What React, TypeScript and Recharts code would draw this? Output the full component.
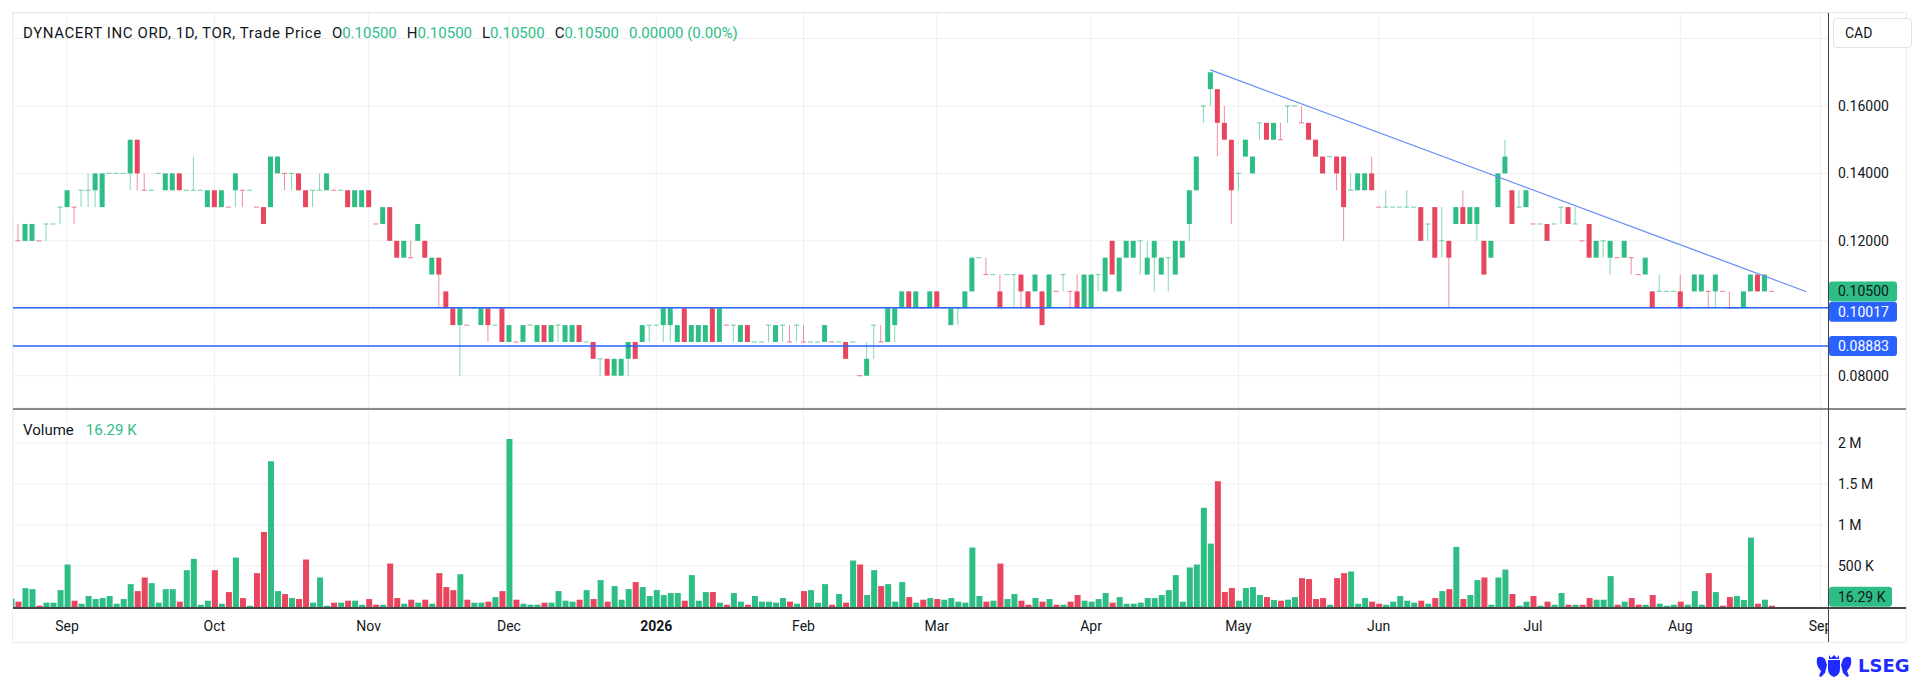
import { ComposedChart, Bar, Cell, XAxis, YAxis, CartesianGrid, ReferenceLine } from 'recharts'

// colours
const UP = '#2ebd85'
const DOWN = '#e8455e'
const LINE_BLUE = '#2962ff'
const TREND_BLUE = '#6a8ff5'
const INK = '#131722'
const GRID = '#efefef'
const FONT = 'Roboto, "Noto Sans", sans-serif'

// daily bars, late Aug 2025 -> 21 Aug 2026 (index = trading day)
const opens = [
  0.125, 0.12, 0.12, 0.12, 0.12, 0.125, 0.125, 0.13, 0.13, 0.13,
  0.135, 0.135, 0.135, 0.13, 0.14, 0.14, 0.14, 0.14, 0.15, 0.135,
  0.135, 0.14, 0.135, 0.135, 0.14, 0.135, 0.135, 0.135, 0.13, 0.135,
  0.13, 0.13, 0.135, 0.135, 0.135, 0.13, 0.13, 0.13, 0.14, 0.14,
  0.14, 0.14, 0.135, 0.135, 0.135, 0.135, 0.135, 0.135, 0.135, 0.13,
  0.13, 0.135, 0.125, 0.125, 0.13, 0.12, 0.115, 0.115, 0.12, 0.12,
  0.11, 0.115, 0.105, 0.1, 0.095, 0.095, 0.1, 0.095, 0.1, 0.095,
  0.1, 0.09, 0.09, 0.09, 0.095, 0.09, 0.095, 0.09, 0.095, 0.09,
  0.09, 0.095, 0.09, 0.09, 0.085, 0.085, 0.08, 0.08, 0.085, 0.09,
  0.09, 0.095, 0.095, 0.095, 0.095, 0.09, 0.1, 0.09, 0.09, 0.09,
  0.1, 0.09, 0.095, 0.095, 0.09, 0.095, 0.09, 0.09, 0.095, 0.09,
  0.095, 0.09, 0.095, 0.09, 0.09, 0.09, 0.09, 0.09, 0.09, 0.09,
  0.09, 0.08, 0.08, 0.095, 0.09, 0.09, 0.095, 0.1, 0.105, 0.1,
  0.1, 0.1, 0.105, 0.1, 0.095, 0.1, 0.1, 0.105, 0.115, 0.11,
  0.11, 0.105, 0.11, 0.11, 0.11, 0.105, 0.105, 0.105, 0.1, 0.105,
  0.11, 0.105, 0.105, 0.1, 0.1, 0.11, 0.105, 0.12, 0.105, 0.115,
  0.115, 0.12, 0.11, 0.115, 0.11, 0.115, 0.11, 0.115, 0.125, 0.135,
  0.16, 0.165, 0.165, 0.155, 0.15, 0.14, 0.145, 0.14, 0.155, 0.155,
  0.15, 0.15, 0.16, 0.16, 0.155, 0.155, 0.15, 0.145, 0.145, 0.145,
  0.145, 0.135, 0.135, 0.135, 0.14, 0.13, 0.13, 0.13, 0.13, 0.13,
  0.13, 0.13, 0.125, 0.13, 0.12, 0.12, 0.125, 0.13, 0.125, 0.125,
  0.12, 0.115, 0.13, 0.14, 0.135, 0.13, 0.13, 0.125, 0.125, 0.125,
  0.125, 0.13, 0.13, 0.125, 0.12, 0.125, 0.115, 0.12, 0.115, 0.115,
  0.115, 0.115, 0.11, 0.11, 0.105, 0.105, 0.105, 0.105, 0.105, 0.1,
  0.105, 0.105, 0.105, 0.105, 0.105, 0.1, 0.1, 0.1, 0.105, 0.11,
  0.105, 0.105,
]
const highs = [
  0.125, 0.125, 0.125, 0.125, 0.12, 0.125, 0.125, 0.13, 0.135, 0.13,
  0.135, 0.14, 0.14, 0.14, 0.14, 0.14, 0.14, 0.15, 0.15, 0.14,
  0.135, 0.14, 0.14, 0.14, 0.14, 0.135, 0.145, 0.135, 0.135, 0.135,
  0.135, 0.13, 0.14, 0.135, 0.135, 0.13, 0.13, 0.145, 0.145, 0.14,
  0.14, 0.14, 0.135, 0.135, 0.14, 0.14, 0.135, 0.135, 0.135, 0.135,
  0.135, 0.135, 0.125, 0.13, 0.13, 0.12, 0.12, 0.12, 0.125, 0.12,
  0.115, 0.115, 0.105, 0.1, 0.1, 0.095, 0.1, 0.1, 0.1, 0.095,
  0.1, 0.095, 0.09, 0.095, 0.095, 0.095, 0.095, 0.095, 0.095, 0.095,
  0.095, 0.095, 0.09, 0.09, 0.085, 0.085, 0.085, 0.085, 0.09, 0.09,
  0.095, 0.095, 0.095, 0.1, 0.1, 0.095, 0.1, 0.095, 0.095, 0.095,
  0.1, 0.1, 0.095, 0.095, 0.095, 0.095, 0.09, 0.09, 0.095, 0.095,
  0.095, 0.095, 0.095, 0.095, 0.09, 0.09, 0.095, 0.09, 0.09, 0.09,
  0.09, 0.08, 0.09, 0.095, 0.095, 0.1, 0.1, 0.105, 0.105, 0.105,
  0.1, 0.105, 0.105, 0.1, 0.1, 0.1, 0.105, 0.115, 0.115, 0.115,
  0.11, 0.11, 0.11, 0.11, 0.11, 0.105, 0.11, 0.105, 0.11, 0.105,
  0.11, 0.105, 0.11, 0.11, 0.11, 0.11, 0.115, 0.12, 0.115, 0.12,
  0.12, 0.12, 0.12, 0.12, 0.115, 0.115, 0.12, 0.12, 0.135, 0.145,
  0.16, 0.17, 0.165, 0.16, 0.15, 0.14, 0.15, 0.145, 0.155, 0.155,
  0.155, 0.155, 0.16, 0.16, 0.16, 0.155, 0.15, 0.145, 0.145, 0.145,
  0.145, 0.14, 0.14, 0.14, 0.145, 0.13, 0.135, 0.13, 0.13, 0.135,
  0.13, 0.13, 0.125, 0.13, 0.13, 0.12, 0.13, 0.135, 0.13, 0.13,
  0.12, 0.12, 0.14, 0.15, 0.135, 0.135, 0.135, 0.125, 0.125, 0.125,
  0.125, 0.13, 0.13, 0.13, 0.12, 0.125, 0.12, 0.12, 0.12, 0.115,
  0.12, 0.115, 0.11, 0.115, 0.105, 0.11, 0.105, 0.105, 0.11, 0.1,
  0.11, 0.11, 0.105, 0.11, 0.105, 0.105, 0.1, 0.105, 0.11, 0.11,
  0.11, 0.105,
]
const lows = [
  0.12, 0.12, 0.12, 0.12, 0.12, 0.12, 0.125, 0.125, 0.13, 0.125,
  0.13, 0.13, 0.13, 0.13, 0.14, 0.14, 0.14, 0.135, 0.135, 0.135,
  0.135, 0.14, 0.135, 0.135, 0.135, 0.135, 0.135, 0.135, 0.13, 0.13,
  0.13, 0.13, 0.13, 0.13, 0.135, 0.13, 0.125, 0.13, 0.14, 0.135,
  0.135, 0.135, 0.13, 0.13, 0.135, 0.135, 0.135, 0.135, 0.13, 0.13,
  0.13, 0.13, 0.125, 0.125, 0.12, 0.115, 0.115, 0.115, 0.12, 0.115,
  0.11, 0.1, 0.1, 0.095, 0.08, 0.095, 0.1, 0.095, 0.09, 0.095,
  0.09, 0.09, 0.09, 0.09, 0.095, 0.09, 0.09, 0.09, 0.09, 0.09,
  0.09, 0.09, 0.09, 0.085, 0.08, 0.08, 0.08, 0.08, 0.08, 0.085,
  0.09, 0.09, 0.095, 0.09, 0.09, 0.09, 0.09, 0.09, 0.09, 0.09,
  0.09, 0.09, 0.095, 0.09, 0.09, 0.09, 0.09, 0.09, 0.09, 0.09,
  0.09, 0.09, 0.09, 0.09, 0.09, 0.09, 0.09, 0.09, 0.09, 0.085,
  0.09, 0.08, 0.08, 0.085, 0.09, 0.09, 0.09, 0.1, 0.1, 0.1,
  0.1, 0.1, 0.1, 0.1, 0.095, 0.095, 0.1, 0.105, 0.115, 0.11,
  0.11, 0.1, 0.11, 0.1, 0.1, 0.1, 0.105, 0.095, 0.1, 0.105,
  0.105, 0.1, 0.1, 0.1, 0.1, 0.105, 0.105, 0.11, 0.105, 0.115,
  0.115, 0.11, 0.11, 0.105, 0.11, 0.105, 0.11, 0.115, 0.12, 0.135,
  0.155, 0.16, 0.145, 0.15, 0.125, 0.135, 0.145, 0.14, 0.15, 0.15,
  0.15, 0.15, 0.155, 0.16, 0.155, 0.15, 0.145, 0.14, 0.145, 0.135,
  0.12, 0.135, 0.135, 0.135, 0.135, 0.13, 0.13, 0.13, 0.13, 0.13,
  0.13, 0.12, 0.12, 0.115, 0.115, 0.1, 0.125, 0.125, 0.125, 0.12,
  0.11, 0.115, 0.13, 0.14, 0.125, 0.13, 0.13, 0.125, 0.125, 0.12,
  0.125, 0.125, 0.125, 0.125, 0.12, 0.115, 0.115, 0.115, 0.11, 0.115,
  0.115, 0.11, 0.11, 0.11, 0.1, 0.105, 0.105, 0.105, 0.1, 0.1,
  0.105, 0.105, 0.1, 0.1, 0.105, 0.1, 0.1, 0.1, 0.105, 0.105,
  0.105, 0.105,
]
const closes = [
  0.125, 0.12, 0.125, 0.125, 0.12, 0.125, 0.125, 0.13, 0.135, 0.13,
  0.135, 0.135, 0.14, 0.14, 0.14, 0.14, 0.14, 0.15, 0.14, 0.135,
  0.135, 0.14, 0.14, 0.14, 0.135, 0.135, 0.135, 0.135, 0.135, 0.13,
  0.135, 0.13, 0.14, 0.135, 0.135, 0.13, 0.125, 0.145, 0.145, 0.14,
  0.14, 0.135, 0.13, 0.135, 0.135, 0.14, 0.135, 0.135, 0.13, 0.135,
  0.135, 0.13, 0.125, 0.13, 0.12, 0.115, 0.12, 0.115, 0.125, 0.115,
  0.115, 0.11, 0.1, 0.095, 0.1, 0.095, 0.1, 0.1, 0.095, 0.095,
  0.09, 0.095, 0.09, 0.095, 0.095, 0.095, 0.09, 0.095, 0.095, 0.095,
  0.095, 0.09, 0.09, 0.085, 0.085, 0.08, 0.085, 0.085, 0.09, 0.085,
  0.095, 0.095, 0.095, 0.1, 0.1, 0.095, 0.09, 0.095, 0.095, 0.095,
  0.09, 0.1, 0.095, 0.095, 0.095, 0.09, 0.09, 0.09, 0.095, 0.095,
  0.095, 0.09, 0.095, 0.09, 0.09, 0.09, 0.095, 0.09, 0.09, 0.085,
  0.09, 0.08, 0.085, 0.095, 0.09, 0.1, 0.1, 0.105, 0.1, 0.105,
  0.1, 0.105, 0.1, 0.1, 0.1, 0.1, 0.105, 0.115, 0.115, 0.11,
  0.11, 0.1, 0.11, 0.11, 0.105, 0.1, 0.11, 0.095, 0.11, 0.105,
  0.11, 0.105, 0.1, 0.11, 0.11, 0.11, 0.115, 0.11, 0.115, 0.12,
  0.12, 0.12, 0.115, 0.12, 0.115, 0.115, 0.12, 0.12, 0.135, 0.145,
  0.16, 0.17, 0.155, 0.15, 0.135, 0.14, 0.15, 0.145, 0.155, 0.15,
  0.155, 0.15, 0.16, 0.16, 0.155, 0.15, 0.145, 0.14, 0.145, 0.14,
  0.13, 0.135, 0.14, 0.14, 0.135, 0.13, 0.13, 0.13, 0.13, 0.13,
  0.13, 0.12, 0.125, 0.115, 0.12, 0.115, 0.13, 0.125, 0.13, 0.13,
  0.11, 0.12, 0.14, 0.145, 0.125, 0.13, 0.135, 0.125, 0.125, 0.12,
  0.125, 0.13, 0.125, 0.125, 0.12, 0.115, 0.12, 0.12, 0.12, 0.115,
  0.12, 0.115, 0.11, 0.115, 0.1, 0.105, 0.105, 0.105, 0.1, 0.1,
  0.11, 0.11, 0.105, 0.11, 0.105, 0.1, 0.1, 0.105, 0.11, 0.105,
  0.11, 0.105,
]
// volume in thousands of shares
const volumesK = [
  100, 65, 230, 218, 16, 53, 53, 206, 518, 77,
  40, 134, 97, 109, 134, 40, 97, 279, 194, 360,
  291, 53, 218, 218, 65, 449, 587, 28, 77, 449,
  40, 182, 603, 109, 16, 413, 915, 1777, 194, 158,
  109, 97, 579, 53, 360, 16, 53, 53, 77, 77,
  28, 97, 28, 28, 530, 109, 40, 89, 53, 89,
  40, 413, 243, 206, 400, 89, 53, 53, 65, 121,
  194, 2049, 89, 40, 28, 28, 53, 53, 194, 77,
  65, 89, 206, 97, 328, 65, 255, 89, 218, 304,
  243, 134, 206, 146, 170, 170, 77, 389, 77, 182,
  182, 53, 28, 170, 65, 28, 134, 65, 65, 53,
  109, 65, 40, 194, 206, 53, 279, 28, 158, 53,
  567, 518, 146, 449, 255, 279, 65, 304, 121, 53,
  89, 109, 97, 89, 109, 65, 53, 725, 134, 65,
  77, 530, 97, 158, 77, 28, 109, 65, 97, 28,
  28, 65, 146, 77, 65, 97, 170, 53, 121, 40,
  40, 53, 109, 109, 146, 206, 389, 65, 482, 518,
  1210, 773, 1534, 182, 231, 77, 231, 243, 146, 121,
  85, 77, 89, 121, 352, 340, 97, 109, 28, 352,
  413, 433, 40, 109, 65, 40, 28, 65, 134, 77,
  53, 77, 40, 109, 194, 218, 733, 97, 146, 328,
  360, 28, 360, 457, 158, 16, 65, 134, 16, 65,
  28, 170, 28, 28, 28, 109, 89, 89, 377, 28,
  65, 109, 28, 28, 146, 40, 16, 28, 65, 28,
  194, 28, 413, 182, 16, 121, 134, 85, 846, 40,
  89, 16.29,
]

const MONTH_IDX = [8, 29, 51, 71, 92, 113, 132, 154, 175, 195, 217, 238, 258]
const MONTH_LABELS = ['Sep', 'Oct', 'Nov', 'Dec', '2026', 'Feb', 'Mar', 'Apr', 'May', 'Jun', 'Jul', 'Aug', 'Sep']
const PRICE_TICKS = [0.08, 0.1, 0.12, 0.14, 0.16, 0.18]
const UNLABELLED_PRICE_TICKS = [0.1, 0.18]
const VOLUME_TICKS = [500, 1000, 1500, 2000]
const SUPPORT_LEVELS = [0.10017, 0.08883]
const TREND_START = { x: 171, y: 0.1707 }
const TREND_END = { x: 256, y: 0.1049 }

const X_DOMAIN = [0.29, 259.06]
const PRICE_DOMAIN = [0.07041, 0.18759]
const VOLUME_DOMAIN = [0, 2415]

const rows = opens.map((open, i) => {
  const close = closes[i]
  const prev = i > 0 ? closes[i - 1] : close
  return {
    idx: i,
    open,
    high: highs[i],
    low: lows[i],
    close,
    volume: volumesK[i],
    up: close > open || (close === open && close >= prev),
  }
})

function Candle(props: any) {
  const { x, width, payload } = props
  const height = Math.abs(props.height)
  if (!payload || !(height > 0)) return null
  const y = props.height < 0 ? props.y + props.height : props.y
  // bar spans [domain min, high], so this gives the price scale of the axis
  const k = height / (payload.high - PRICE_DOMAIN[0])
  const py = (v: number) => y + (payload.high - v) * k
  const color = payload.up ? UP : DOWN
  const cx = x + width / 2
  const top = py(Math.max(payload.open, payload.close))
  const bottom = py(Math.min(payload.open, payload.close))
  const flat = bottom - top < 1
  return (
    <g>
      {payload.high > payload.low && (
        <line x1={cx} x2={cx} y1={py(payload.high)} y2={py(payload.low)} stroke={color} strokeOpacity={0.6} strokeWidth={1} />
      )}
      <rect
        x={x}
        y={flat ? top - 0.6 : top}
        width={width}
        height={flat ? 1.2 : bottom - top}
        fill={color}
        fillOpacity={flat ? 0.6 : 1}
      />
    </g>
  )
}

function PriceTag({ viewBox, text, bg, fg, shift = 0, w = 68 }: any) {
  if (!viewBox) return null
  const x = viewBox.x + viewBox.width + 1
  const y = viewBox.y + shift - 10
  return (
    <g>
      <rect x={x} y={y} width={w} height={20} rx={3} fill={bg} />
      <text x={x + 9} y={y + 15} fontSize={14} fill={fg} fontFamily={FONT}>
        {text}
      </text>
    </g>
  )
}

function MonthTick({ x, y, payload }: any) {
  const label = MONTH_LABELS[MONTH_IDX.indexOf(payload.value)]
  return (
    <text x={x} y={y} dy={24} textAnchor="middle" fontSize={14} fill={INK} fontWeight={label === '2026' ? 700 : 400}>
      {label}
    </text>
  )
}

const formatPrice = (v: number) => (UNLABELLED_PRICE_TICKS.includes(v) ? '' : v.toFixed(5))
const formatVolume = (v: number) => (v >= 1000 ? `${v / 1000} M` : `${v} K`)

export default function App() {
  const last = rows[rows.length - 1]
  const green = { color: UP }
  return (
    <div
      style={{
        position: 'absolute',
        left: 0,
        top: 0,
        width: 1920,
        height: 681,
        background: '#fff',
        fontFamily: FONT,
        color: INK,
        overflow: 'hidden',
      }}
    >
      <div style={{ position: 'absolute', left: 12, top: 12, width: 1893, height: 629, border: '1px solid #ececec' }} />

      <div style={{ position: 'absolute', left: 13, top: 13 }}>
        <ComposedChart width={1893} height={395} data={rows} margin={{ top: 0, right: 0, bottom: 0, left: 0 }}>
          <CartesianGrid stroke={GRID} />
          <XAxis type="number" dataKey="idx" domain={X_DOMAIN} ticks={MONTH_IDX} allowDataOverflow hide />
          <YAxis
            orientation="right"
            width={78}
            domain={PRICE_DOMAIN}
            ticks={PRICE_TICKS}
            interval={0}
            allowDataOverflow
            axisLine={false}
            tickLine={false}
            tickSize={0}
            tickMargin={10}
            tick={{ fill: INK, fontSize: 14 }}
            tickFormatter={formatPrice}
          />
          <Bar
            dataKey={(d: any) => [PRICE_DOMAIN[0], d.high]}
            shape={(p: any) => <Candle {...p} />}
            barSize={5}
            isAnimationActive={false}
          />
          <ReferenceLine segment={[TREND_START, TREND_END]} stroke={TREND_BLUE} strokeWidth={1.3} />
          {SUPPORT_LEVELS.map((lvl, i) => (
            <ReferenceLine
              key={lvl}
              y={lvl}
              stroke={LINE_BLUE}
              strokeWidth={1.5}
              label={<PriceTag text={lvl.toFixed(5)} bg={LINE_BLUE} fg="#ffffff" shift={i === 0 ? 4 : 0} />}
            />
          ))}
          <ReferenceLine
            y={last.close}
            stroke="none"
            label={<PriceTag text={last.close.toFixed(5)} bg={UP} fg={INK} />}
          />
        </ComposedChart>
      </div>

      <div style={{ position: 'absolute', left: 13, top: 409 }}>
        <ComposedChart width={1893} height={233} data={rows} margin={{ top: 0, right: 0, bottom: 0, left: 0 }}>
          <CartesianGrid stroke={GRID} />
          <XAxis
            type="number"
            dataKey="idx"
            domain={X_DOMAIN}
            ticks={MONTH_IDX}
            interval={0}
            allowDataOverflow
            height={35}
            axisLine={false}
            tickLine={false}
            tickSize={0}
            tickMargin={0}
            tick={<MonthTick />}
          />
          <YAxis
            orientation="right"
            width={78}
            domain={VOLUME_DOMAIN}
            ticks={VOLUME_TICKS}
            interval={0}
            allowDataOverflow
            axisLine={false}
            tickLine={false}
            tickSize={0}
            tickMargin={10}
            tick={{ fill: INK, fontSize: 14 }}
            tickFormatter={formatVolume}
          />
          <Bar dataKey="volume" barSize={6} isAnimationActive={false}>
            {rows.map((r) => (
              <Cell key={r.idx} fill={r.up ? UP : DOWN} />
            ))}
          </Bar>
          <ReferenceLine
            y={last.volume}
            stroke="none"
            label={<PriceTag text={`${last.volume.toFixed(2)} K`} bg={UP} fg={INK} shift={-9} w={63} />}
          />
        </ComposedChart>
      </div>

      {/* pane frame lines */}
      <div style={{ position: 'absolute', left: 1829, top: 609, width: 77, height: 32, background: '#fff' }} />
      <div style={{ position: 'absolute', left: 13, top: 408, width: 1893, height: 2, background: '#8a8a8a' }} />
      <div style={{ position: 'absolute', left: 13, top: 607, width: 1893, height: 2, background: '#444' }} />
      <div style={{ position: 'absolute', left: 1828, top: 13, width: 1, height: 629, background: '#444' }} />

      <div style={{ position: 'absolute', left: 23, top: 24, fontSize: 15, lineHeight: '18px', whiteSpace: 'nowrap' }}>
        <span style={{ letterSpacing: 0.6 }}>DYNACERT INC ORD, 1D, TOR, Trade Price</span>
        <span style={{ marginLeft: 10 }}>O</span>
        <span style={green}>0.10500</span>
        <span style={{ marginLeft: 10 }}>H</span>
        <span style={green}>0.10500</span>
        <span style={{ marginLeft: 10 }}>L</span>
        <span style={green}>0.10500</span>
        <span style={{ marginLeft: 10 }}>C</span>
        <span style={green}>0.10500</span>
        <span style={{ marginLeft: 10, ...green }}>0.00000 (0.00%)</span>
      </div>

      <div style={{ position: 'absolute', left: 23, top: 421, fontSize: 15, lineHeight: '18px', whiteSpace: 'nowrap' }}>
        Volume<span style={{ marginLeft: 12, ...green }}>{last.volume.toFixed(2)} K</span>
      </div>

      <div
        style={{
          position: 'absolute',
          left: 1833,
          top: 18,
          width: 66,
          height: 28,
          border: '1px solid #e3e3e3',
          borderRadius: 4,
          background: '#fff',
          fontSize: 14,
          lineHeight: '28px',
          paddingLeft: 11,
          boxSizing: 'content-box',
        }}
      >
        CAD
      </div>

      <svg style={{ position: 'absolute', left: 1815, top: 654 }} width={38} height={26} viewBox="0 0 38 26">
        <g fill="#1f2bff">
          <path d="M13 6 h12 v9 q0 6 -6 8 q-6 -2 -6 -8 z" />
          <path d="M14 1 l2 3 l3 -3 l3 3 l2 -3 v4 h-10 z" />
          <path d="M2 4 q4 -3 8 1 l2 6 l-2 8 l-4 4 l-2 -1 l2 -5 l-3 -4 q-2 -4 -1 -9 z" />
          <path d="M36 4 q-4 -3 -8 1 l-2 6 l2 8 l4 4 l2 -1 l-2 -5 l3 -4 q2 -4 1 -9 z" />
        </g>
      </svg>
      <div
        style={{
          position: 'absolute',
          left: 1858,
          top: 656,
          fontFamily: '"DejaVu Sans", sans-serif',
          fontWeight: 700,
          fontSize: 18,
          lineHeight: '20px',
          color: '#1f2bff',
        }}
      >
        LSEG
      </div>
    </div>
  )
}
